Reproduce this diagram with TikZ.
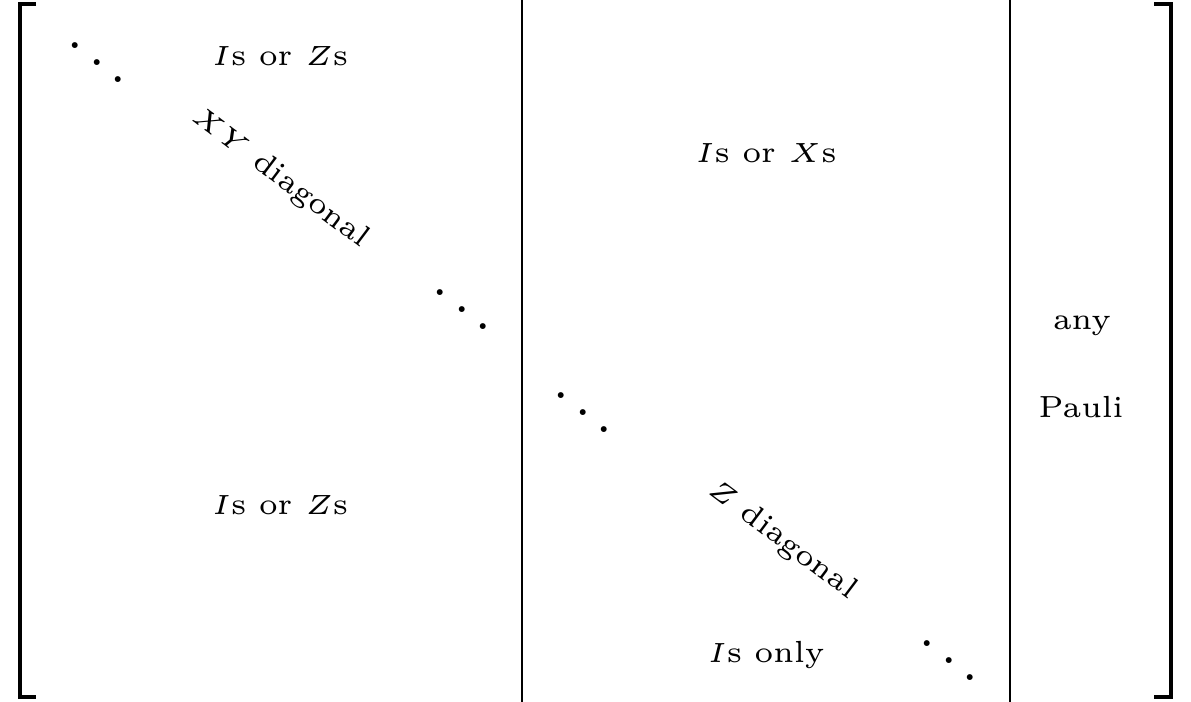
\documentclass[tikz,border=0pt]{standalone}
\tikzset{every picture/.style={line width=0.4pt}}
\begin{document}
\begin{tikzpicture}[x=0.18pt,y=0.18pt,yscale=-1,xscale=1,
  lbl/.style={font=\fontsize{5.5}{6.5}\selectfont}]
\useasboundingbox (0,0) rectangle (1191,702);
% brackets
\draw [line width=0.72pt] (36,4.5) -- (20,4.5) -- (20,697.5) -- (36,697.5);
\draw [line width=0.72pt] (1154,4.5) -- (1170.5,4.5) -- (1170.5,697.5) -- (1154,697.5);
% block separators
\draw (522,0) -- (522,702);
\draw (1010,0) -- (1010,702);
% block labels
\draw (280,56) node (topizs) [lbl] {$I$s or $Z$s};
\draw (766,153) node (ixs) [lbl] {$I$s or $X$s};
\draw (280,505) node (botizs) [lbl] {$I$s or $Z$s};
\draw (766,655) node (ionly) [lbl] {$I$s only};
\draw (1082,326) node (anyp) [lbl] {any};
\draw (1081,407) node (pauli) [lbl] {Pauli};
\draw (280,178) node (xydiag) [lbl,rotate=-37] {$XY$ diagonal};
\draw (782,540) node (zdiag) [lbl,rotate=-37] {$Z$ diagonal};
% dots
\draw (97,46) node (dotsa) [inner sep=0pt] {$\ddots$};
\draw (462,293) node (dotsb) [inner sep=0pt] {$\ddots$};
\draw (583,396) node (dotsc) [inner sep=0pt] {$\ddots$};
\draw (949,644) node (dotsd) [inner sep=0pt] {$\ddots$};
\end{tikzpicture}
\end{document}
